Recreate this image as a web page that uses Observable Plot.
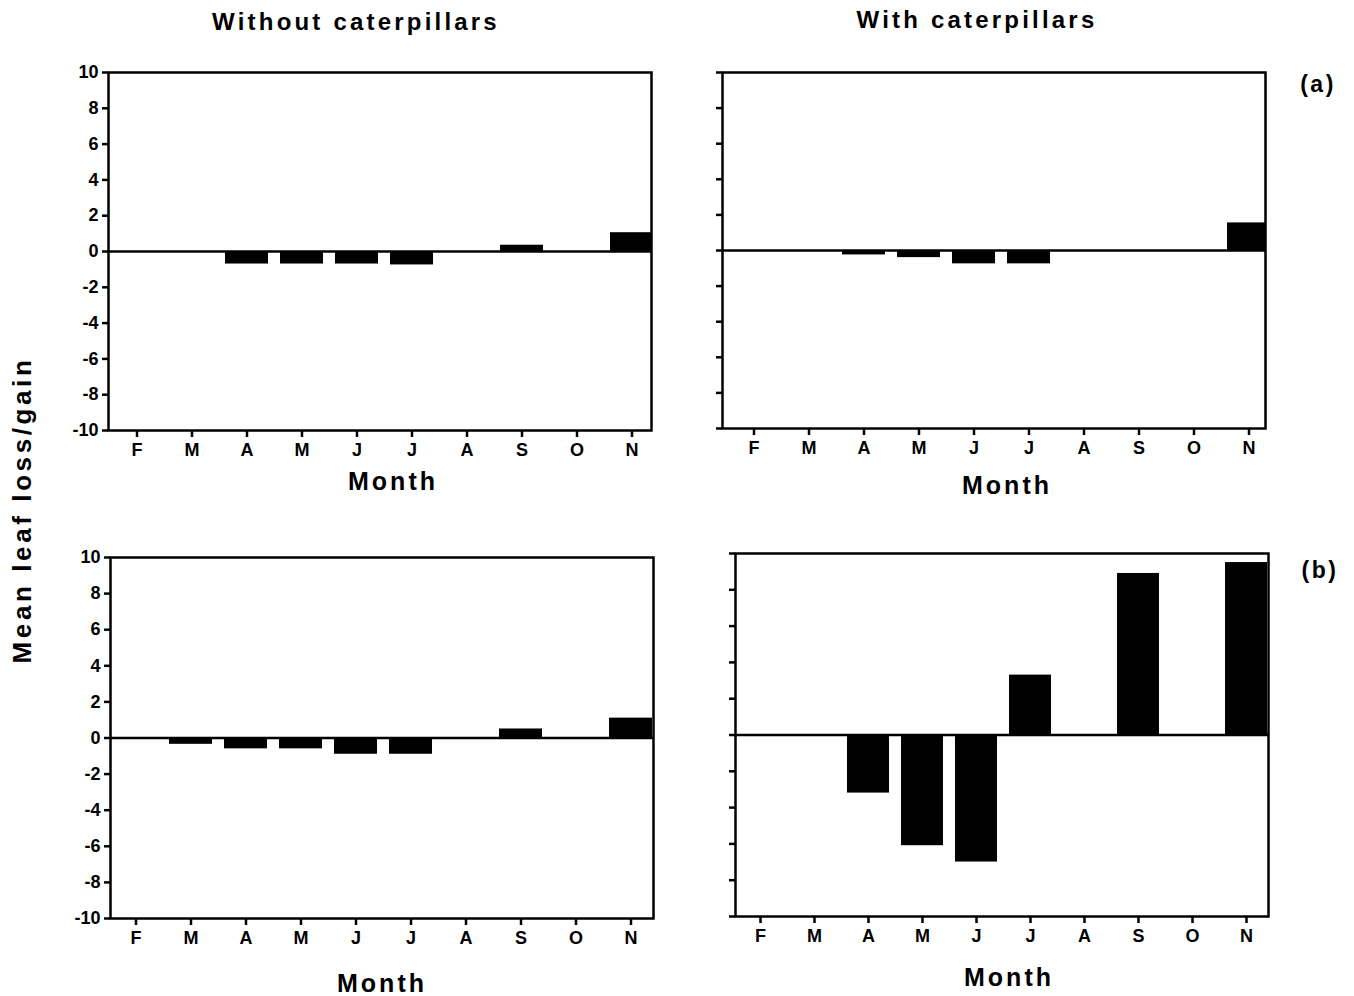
<!DOCTYPE html>
<html><head><meta charset="utf-8">
<script src="https://cdn.jsdelivr.net/npm/d3@7"></script>
<script src="https://cdn.jsdelivr.net/npm/@observablehq/plot@0.6"></script>
<style>
body{margin:0;background:#fff;width:1354px;height:996px;position:relative;overflow:hidden;font-family:"Liberation Sans",Arial,sans-serif;}
.t{position:absolute;color:#000;white-space:nowrap;transform:translate(-50%,-50%);}
.panel{position:absolute;}
</style></head><body>
<div id="root"></div>
<script>
// ---- data ----
const months = ["Feb","Mar","Apr","May","Jun","Jul","Aug","Sep","Oct","Nov"];
const monthLabels = ["F","M","A","M","J","J","A","S","O","N"];
const yTicks = [-10,-8,-6,-4,-2,0,2,4,6,8,10];
const withoutA = [0, 0, -0.7, -0.7, -0.7, -0.75, 0, 0.35, 0, 1.05];
const withA    = [0, 0, -0.25, -0.4, -0.75, -0.75, 0, 0, 0, 1.55];
const withoutB = [0, -0.35, -0.6, -0.6, -0.9, -0.9, 0, 0.5, 0, 1.1];
const withB    = [0, 0, -3.2, -6.1, -7.0, 3.3, 0, 8.9, 0, 9.5];
const columnTitles = ["Without caterpillars", "With caterpillars"];
const rowLabels = ["(a)", "(b)"];
const xTitle = "Month";
const yTitle = "Mean leaf loss/gain";

const root = document.getElementById("root");
function text(str, x, y, css) {
  const d = document.createElement("div");
  d.className = "t"; d.textContent = str; d.style.left = x + "px"; d.style.top = y + "px";
  Object.assign(d.style, css || {});
  root.appendChild(d);
}

function panel({values, frame, tickF, tickN, labels, monthPos}) {
  const [x0, y0, x1, y1] = frame;
  const L = x0 - 80, T = y0 - 20;
  const W = x1 - L + 20, H = y1 - T + 45;
  const step = (tickN - tickF) / 9;
  const data = months.map((m, i) => ({m, v: values[i]})).filter(d => d.v !== 0);
  const svg = Plot.plot({
    width: W, height: H,
    marginLeft: x0 - L, marginTop: y0 - T, marginRight: W - (x1 - L), marginBottom: H - (y1 - T),
    style: {background: "transparent", fontFamily: "'Liberation Sans', Arial, sans-serif", fontSize: "18px", fontWeight: "bold", color: "#000", overflow: "visible"},
    x: {type: "band", domain: months, range: [tickF - step / 2 - L, tickN + step / 2 - L], paddingInner: 0.22, paddingOuter: 0.11, align: 0.5},
    y: {domain: [-10, 10]},
    marks: [
      Plot.barY(data, {x: "m", y: "v", fill: "#000", clip: true}),
      Plot.ruleY([0], {stroke: "#000", strokeWidth: 2.5}),
      Plot.frame({stroke: "#000", strokeWidth: 2.5}),
      Plot.axisY({ticks: yTicks, tickSize: 6, tickPadding: 4, strokeWidth: 2.5, label: null,
        tickFormat: labels ? (d => String(d)) : (() => "")}),
      Plot.axisX({tickSize: 7, tickPadding: 6, strokeWidth: 2.5, label: null,
        tickFormat: d => monthLabels[months.indexOf(d)]})
    ]
  });
  const wrap = document.createElement("div");
  wrap.className = "panel"; wrap.style.left = L + "px"; wrap.style.top = T + "px";
  wrap.appendChild(svg);
  root.appendChild(wrap);
  text(xTitle, monthPos[0], monthPos[1], {fontSize: "25px", fontWeight: "bold", letterSpacing: "3px"});
}

panel({values: withoutA, frame: [108, 72, 651, 430], tickF: 133, tickN: 634, labels: true, monthPos: [393, 481]});
panel({values: withA, frame: [722, 72, 1265, 428], tickF: 753, tickN: 1249, labels: false, monthPos: [1007, 485]});
panel({values: withoutB, frame: [110, 557, 653, 918], tickF: 131, tickN: 634, labels: true, monthPos: [382, 983]});
panel({values: withB, frame: [735, 553, 1268, 916], tickF: 757, tickN: 1250, labels: false, monthPos: [1009, 977]});

const titleCss = {fontSize: "24px", fontWeight: "bold", letterSpacing: "3.2px"};
text(columnTitles[0], 356, 22, titleCss);
text(columnTitles[1], 977, 20, titleCss);
text(rowLabels[0], 1318, 84, {fontSize: "23px", fontWeight: "bold", letterSpacing: "2.5px"});
text(rowLabels[1], 1320, 570, {fontSize: "23px", fontWeight: "bold", letterSpacing: "2.5px"});
text(yTitle, 22, 510, {fontSize: "26px", fontWeight: "bold", letterSpacing: "3.6px", transform: "translate(-50%,-50%) rotate(-90deg)"});
</script>
</body></html>
